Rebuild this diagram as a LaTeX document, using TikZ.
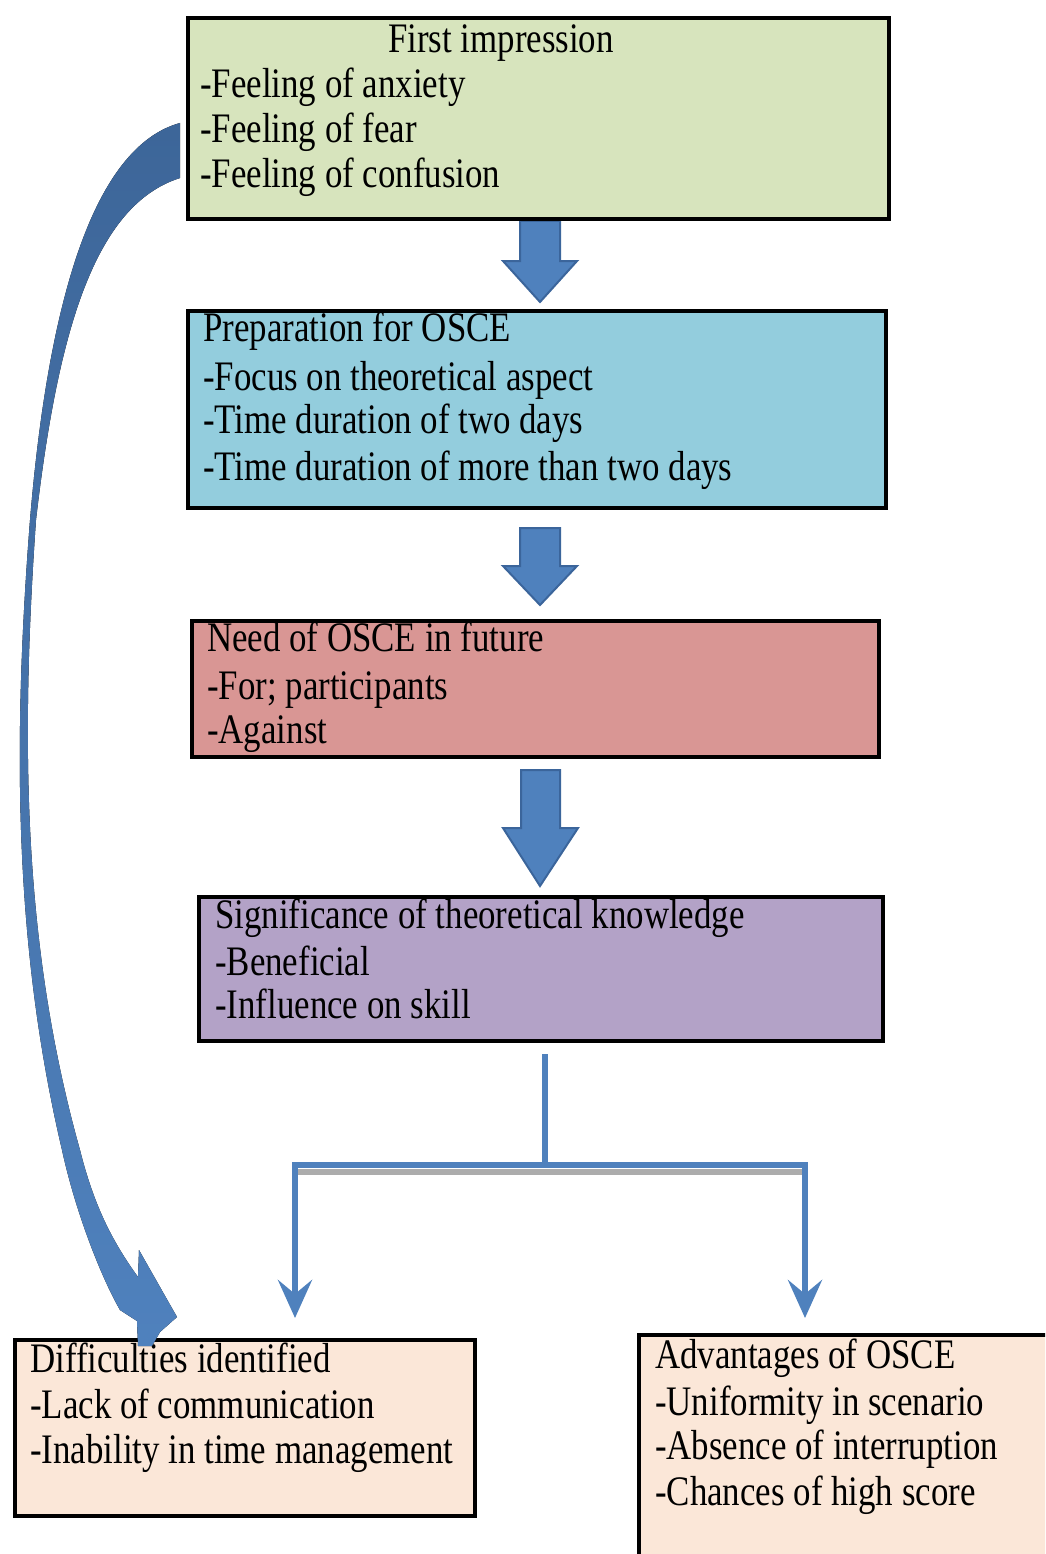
\documentclass[tikz,border=0pt]{standalone}
\usepackage{fontspec}
\setmainfont{Liberation Serif}[FakeStretch=0.83]
\usetikzlibrary{arrows.meta}
\definecolor{cone}{HTML}{D7E4BD}
\definecolor{ctwo}{HTML}{93CDDD}
\definecolor{cthree}{HTML}{D99694}
\definecolor{cfour}{HTML}{B3A2C7}
\definecolor{cfive}{HTML}{FBE7D8}
\definecolor{blu}{HTML}{4F81BD}
\definecolor{bludark}{HTML}{3B659B}
\definecolor{blutop}{HTML}{3D6699}
\begin{document}
\begin{tikzpicture}[x=1pt,y=-1pt,
  box/.style={draw=black,line width=4pt,anchor=north west,inner sep=0pt,outer sep=0pt},
  txt/.style={anchor=base west,inner sep=0pt,font=\fontsize{42}{50}\selectfont},
  barrow/.style={fill=blu,draw=bludark,line width=2pt,line join=miter},
  branch/.style={draw=blu,line width=6.5pt},
  tipped/.style={-{Stealth[length=38pt,width=34pt,inset=14pt]}}]
\useasboundingbox (0,0) rectangle (1045,1554);
\clip (0,0) rectangle (1045,1554);

% block arrows between boxes
\draw[barrow] (520,221) -- (560,221) -- (560,261) -- (577,261) -- (540,302) -- (503,261) -- (520,261) -- cycle;
\draw[barrow] (520,528) -- (560,528) -- (560,566) -- (577,566) -- (540,605) -- (503,566) -- (520,566) -- cycle;
\draw[barrow] (521,770) -- (560,770) -- (560,828) -- (578,828) -- (540,886) -- (503,828) -- (521,828) -- cycle;

% boxes
\node[box,fill=cone,minimum width=701pt,minimum height=201pt] (b1) at (188,18) {};
\node[box,fill=ctwo,minimum width=698pt,minimum height=197pt] (b2) at (188,311) {};
\node[box,fill=cthree,minimum width=687pt,minimum height=136pt] (b3) at (192,621) {};
\node[box,fill=cfour,minimum width=684pt,minimum height=144pt] (b4) at (199,897) {};
\node[box,fill=cfive,minimum width=460pt,minimum height=176pt] (b5) at (15,1340) {};
\node[box,fill=cfive,minimum width=440pt,minimum height=250pt] (b6) at (639,1335) {};

% texts
\node[txt] (t1a) at (388,53) {First impression};
\node[txt] (t1b) at (200,98) {-Feeling of anxiety};
\node[txt] (t1c) at (200,143) {-Feeling of fear};
\node[txt] (t1d) at (200,188) {-Feeling of confusion};

\node[txt] (t2a) at (203,341) {Preparation for OSCE};
\node[txt] (t2b) at (203,390) {-Focus on theoretical aspect};
\node[txt] (t2c) at (203,433) {-Time duration of two days};
\node[txt] (t2d) at (203,480) {-Time duration of more than two days};

\node[txt] (t3a) at (207,651) {Need of OSCE in future};
\node[txt] (t3b) at (207,699) {-For; participants};
\node[txt] (t3c) at (207,743) {-Against};

\node[txt] (t4a) at (215,928) {Significance of theoretical knowledge};
\node[txt] (t4b) at (215,975) {-Beneficial};
\node[txt] (t4c) at (215,1018) {-Influence on skill};

\node[txt] (t5a) at (30,1372) {Difficulties identified};
\node[txt] (t5b) at (30,1418) {-Lack of communication};
\node[txt] (t5c) at (30,1463) {-Inability in time management};

\node[txt] (t6a) at (655,1368) {Advantages of OSCE};
\node[txt] (t6b) at (655,1415) {-Uniformity in scenario};
\node[txt] (t6c) at (655,1459) {-Absence of interruption};
\node[txt] (t6d) at (655,1505) {-Chances of high score};

% branch connector
\coordinate (jtop) at (545,1054);
\coordinate (jmid) at (545,1165);
\coordinate (jl) at (295,1165);
\coordinate (jr) at (805,1165);
\coordinate (el) at (295,1318);
\coordinate (er) at (805,1318);
\draw[gray!65,line width=6pt] (292,1172) -- (806,1172);
\draw[branch] (jtop) -- (jmid);
\draw[branch] (291.75,1165) -- (808.25,1165);
\draw[branch,tipped] (jl) -- (el);
\draw[branch,tipped] (jr) -- (er);

% curved arrow from first box to difficulties box
\fill[top color=blutop,bottom color=blu]
  (180,123) .. controls (100,145) and (50,280) .. (30,520)
  .. controls (12,750) and (15,950) .. (62,1150)
  .. controls (75,1210) and (100,1275) .. (120,1310)
  -- (137,1321) -- (138,1346) -- (152,1346) -- (160,1332) -- (177,1317) -- (139,1250) -- (138,1277)
  .. controls (115,1245) and (95,1210) .. (80,1150)
  .. controls (24,950) and (20,750) .. (36,520)
  .. controls (58,330) and (95,205) .. (180,178) -- cycle;
\end{tikzpicture}
\end{document}
